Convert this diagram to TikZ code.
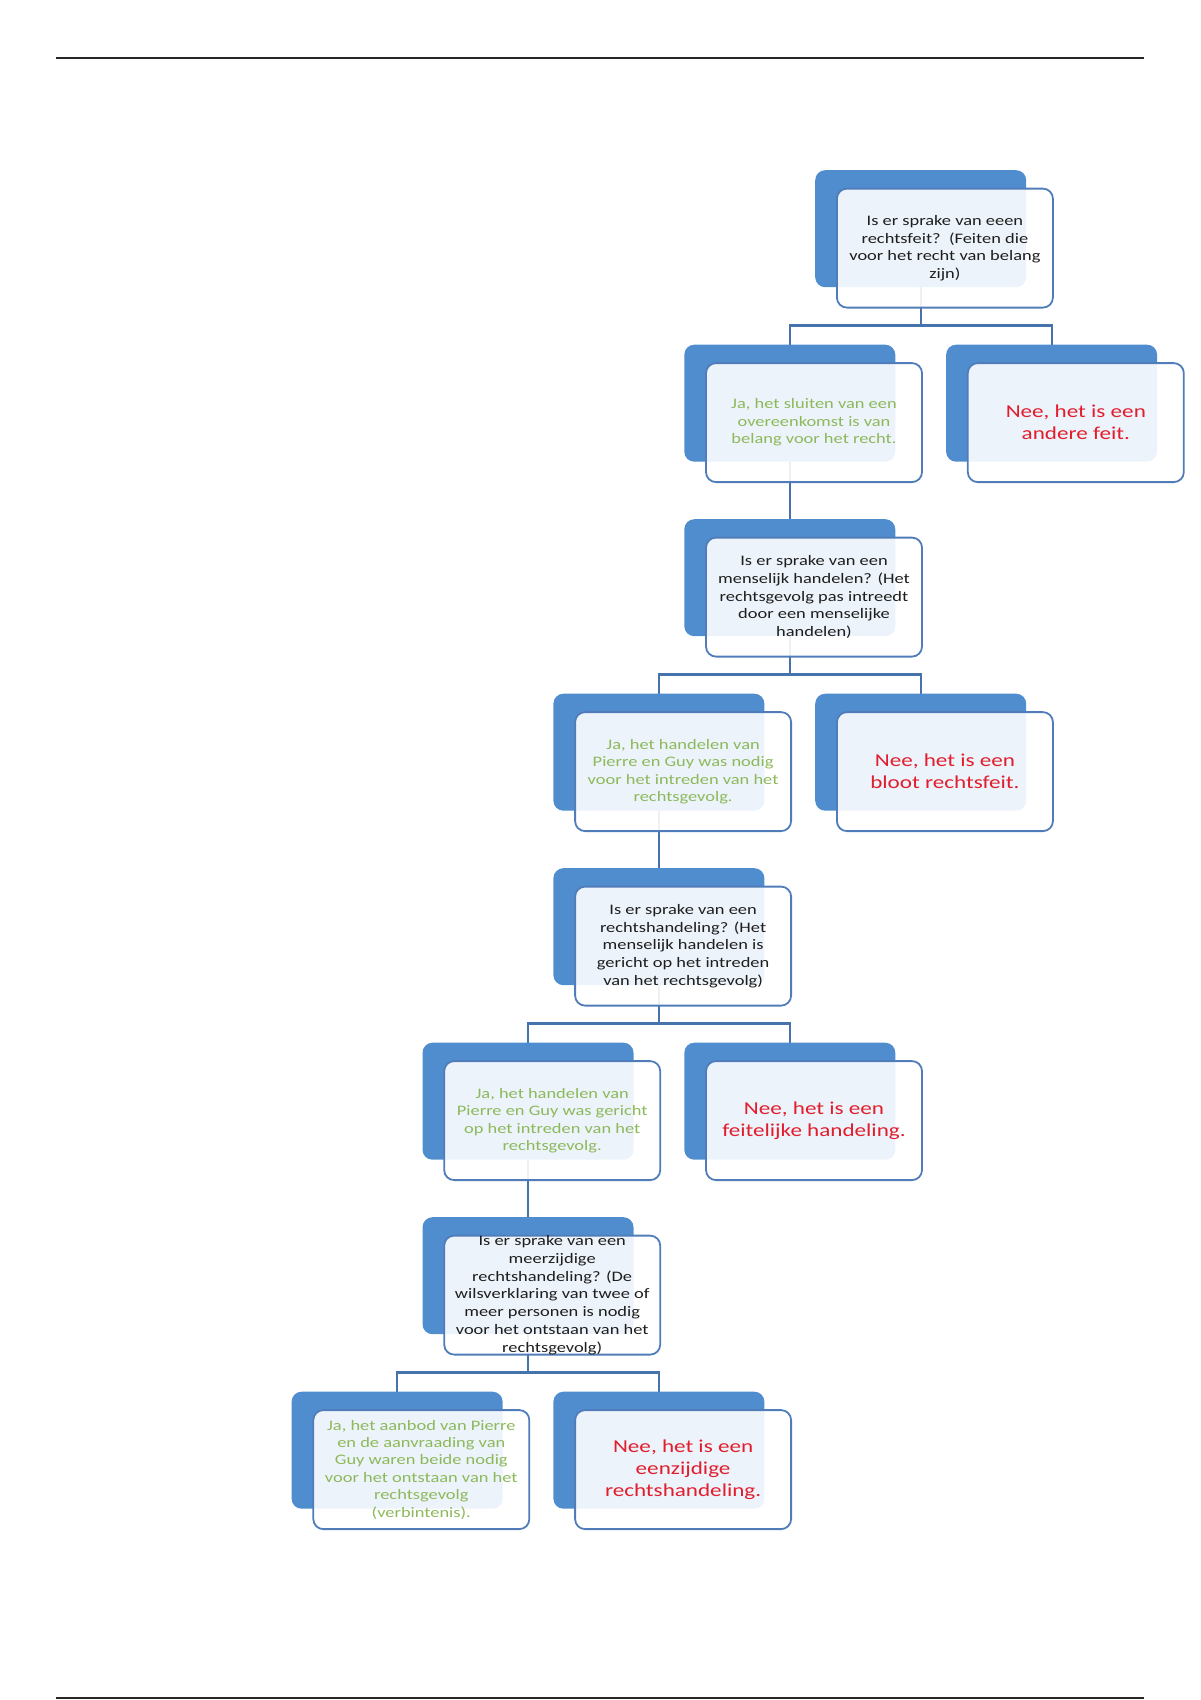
\documentclass[tikz,border=0pt]{standalone}
\usepackage{fontspec}
\newfontfamily\boxfont{Carlito}[FakeStretch=1.27]
\usetikzlibrary{backgrounds}
\definecolor{backblue}{RGB}{79,141,207}
\definecolor{edgeblue}{RGB}{80,125,185}
\definecolor{linkblue}{RGB}{70,115,172}
\definecolor{jagreen}{RGB}{140,185,90}
\definecolor{neered}{RGB}{225,30,45}
\definecolor{qgray}{RGB}{30,30,30}
\tikzset{
  backbox/.style={fill=backblue, rounded corners=10pt, minimum width=211pt, minimum height=117pt, inner sep=0pt},
  frontbox/.style={draw=edgeblue, line width=1.8pt, fill=white, fill opacity=0.9, text opacity=1, rounded corners=10pt, minimum width=216pt, minimum height=119pt, inner sep=0pt, align=center},
  qtext/.style={font=\boxfont\fontsize{14.5}{17.7}\selectfont, text=qgray},
  jatext/.style={font=\boxfont\fontsize{14.5}{17.4}\selectfont, text=jagreen},
  neetext/.style={font=\boxfont\fontsize{18.2}{22.2}\selectfont, text=neered},
  link/.style={draw=linkblue, line width=2.2pt},
  rule/.style={draw=black!85, line width=2pt}
}
\newcommand\mybox[5]{%
  \pgfmathsetmacro\bxL{291.6+130.9*#2}%
  \pgfmathsetmacro\bxT{170.2+174.5*#3}%
  \node[backbox] (b#1) at (\bxL+105.5, \bxT+58.5) {};
  \node[frontbox,#4] (f#1) at (\bxL+129.7, \bxT+77.9) {#5};
}
\begin{document}
\begin{tikzpicture}[x=1pt,y=-1pt]
\useasboundingbox (0,0) rectangle (1200,1700);
\coordinate (r1a) at (56,57.5);
\coordinate (r1b) at (1144,57.5);
\coordinate (r2a) at (56,1698);
\coordinate (r2b) at (1144,1698);
\draw[rule] (r1a) -- (r1b);
\draw[rule] (r2a) -- (r2b);

\mybox{1}{4}{0}{qtext}{Is er sprake van eeen\\rechtsfeit?\ \ (Feiten die\\voor het recht van belang\\zijn)}
\mybox{2}{3}{1}{jatext}{Ja, het sluiten van een\\overeenkomst is van\\belang voor het recht.}
\mybox{3}{5}{1}{neetext}{Nee, het is een\\andere feit.}
\mybox{4}{3}{2}{qtext}{Is er sprake van een\\menselijk handelen? (Het\\rechtsgevolg pas intreedt\\door een menselijke\\handelen)}
\mybox{5}{2}{3}{jatext}{Ja, het handelen van\\Pierre en Guy was nodig\\voor het intreden van het\\rechtsgevolg.}
\mybox{6}{4}{3}{neetext}{Nee, het is een\\bloot rechtsfeit.}
\mybox{7}{2}{4}{qtext}{Is er sprake van een\\rechtshandeling? (Het\\menselijk handelen is\\gericht op het intreden\\van het rechtsgevolg)}
\mybox{8}{1}{5}{jatext}{Ja, het handelen van\\Pierre en Guy was gericht\\op het intreden van het\\rechtsgevolg.}
\mybox{9}{3}{5}{neetext}{Nee, het is een\\feitelijke handeling.}
\mybox{10}{1}{6}{qtext}{Is er sprake van een\\meerzijdige\\rechtshandeling? (De\\wilsverklaring van twee of\\meer personen is nodig\\voor het ontstaan van het\\rechtsgevolg)}
\mybox{11}{0}{7}{jatext}{Ja, het aanbod van Pierre\\en de aanvraading van\\Guy waren beide nodig\\voor het ontstaan van het\\rechtsgevolg\\(verbintenis).}
\mybox{12}{2}{7}{neetext}{Nee, het is een\\eenzijdige\\rechtshandeling.}

\begin{pgfonlayer}{background}
\draw[link] (b1.south) -- ++(0,38) -| (b2.north);
\draw[link] (b1.south) -- ++(0,38) -| (b3.north);
\draw[link] (b2.south) -- (b4.north);
\draw[link] (b4.south) -- ++(0,38) -| (b5.north);
\draw[link] (b4.south) -- ++(0,38) -| (b6.north);
\draw[link] (b5.south) -- (b7.north);
\draw[link] (b7.south) -- ++(0,38) -| (b8.north);
\draw[link] (b7.south) -- ++(0,38) -| (b9.north);
\draw[link] (b8.south) -- (b10.north);
\draw[link] (b10.south) -- ++(0,38) -| (b11.north);
\draw[link] (b10.south) -- ++(0,38) -| (b12.north);
\end{pgfonlayer}
\end{tikzpicture}
\end{document}
